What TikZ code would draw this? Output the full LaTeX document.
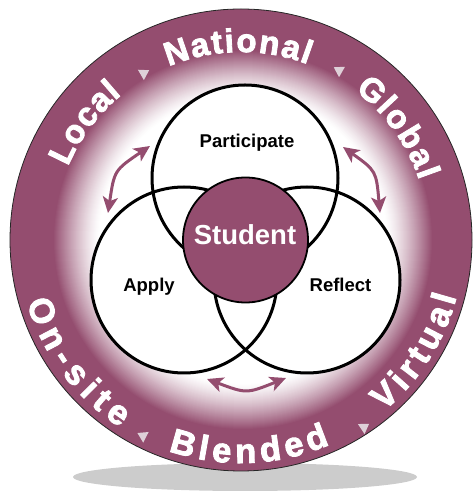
\documentclass[tikz,border=0pt]{standalone}
\usepackage{fontspec}
\setmainfont{Liberation Sans}
\newfontfamily\ringfam{Liberation Sans Bold}[FakeBold=2.5]
\usetikzlibrary{decorations.text,arrows.meta}
\definecolor{purp}{RGB}{148,77,111}
\definecolor{tri}{RGB}{222,208,216}
\definecolor{shadowgray}{RGB}{204,204,204}
\newcommand\ringfonttop{\ringfam\fontsize{33}{33}\selectfont}
\newcommand\ringfontbot{\ringfam\fontsize{34.5}{34.5}\selectfont}
\begin{document}
\begin{tikzpicture}[x=1pt,y=1pt,
  vennfill/.style={circle, fill=white, minimum size=186pt, inner sep=0pt},
  vennring/.style={circle, draw=black, line width=3pt, minimum size=186pt, inner sep=0pt},
  lbl/.style={font=\fontsize{18.5}{18.5}\selectfont\bfseries, anchor=base, inner sep=0pt},
  arr/.style={draw=purp, line width=3pt, {Stealth[length=16pt,width=15pt,inset=4pt]}-{Stealth[length=16pt,width=15pt,inset=4pt]}},
  ringtop/.style={decorate, decoration={text along path, text align=fit to path, text color=white, text={|\ringfonttop|#1}}},
  ringbot/.style={decorate, decoration={text along path, text align=fit to path, text color=white, text={|\ringfontbot|#1}}}
]
\useasboundingbox (0,0) rectangle (474,492);
\coordinate (O) at (241,252);
\coordinate (G) at (243,252);
% shadow
\fill[shadowgray] (245,15) ellipse [x radius=172, y radius=14];
% outer disc
\node[circle, fill=purp, draw=black!85, line width=0.8pt, minimum size=462pt, inner sep=0pt] (outer) at (O) {};
% glow
\foreach \i in {0,...,46}{
  \pgfmathsetmacro\rr{190-\i}
  \pgfmathsetmacro\pp{100*((46-\i)/46)^1.3}
  \fill[purp!\pp!white] (G) circle[radius=\rr];
}
% venn circles
\node[vennfill] (pf) at (245,314) {};
\node[vennfill] (af) at (184,212) {};
\node[vennfill] (rf) at (307,212) {};
\node[vennring] (participate) at (245,314) {};
\node[vennring] (apply) at (184,212) {};
\node[vennring] (reflect) at (307,212) {};
\node[circle, fill=purp, draw=black, line width=1.8pt, minimum size=125pt, inner sep=0pt] (student) at (245.5,252) {};
% labels
\node[lbl] (plbl) at (247,344) {Participate};
\node[lbl] (albl) at (149,200) {Apply};
\node[lbl] (rlbl) at (340.5,200) {Reflect};
\node[lbl, font=\fontsize{27.5}{27.5}\selectfont\bfseries, text=white] (slbl) at (245,247) {Student};
% arrows
\coordinate (la1) at (150,346); \coordinate (la2) at (108,279); \coordinate (lac) at (114.3,321.7);
\coordinate (ra1) at (343,345); \coordinate (ra2) at (380,279); \coordinate (rac) at (376.2,321.2);
\coordinate (ba1) at (207,113); \coordinate (ba2) at (286,114); \coordinate (bac) at (246.5,98.2);
\draw[arr] (la1) .. controls (lac) .. (la2);
\draw[arr] (ra1) .. controls (rac) .. (ra2);
\draw[arr] (ba1) .. controls (bac) .. (ba2);
% ring texts
\path[ringtop=Local] (O) ++(157:188) arc[start angle=157, end angle=129.4, radius=188];
\path[ringtop=National] (O) ++(112.6:188) arc[start angle=112.6, end angle=69.2, radius=188];
\path[ringtop=Global] (O) ++(52.7:188) arc[start angle=52.7, end angle=18.5, radius=188];
\path[ringbot=On-site] (O) ++(196.2:223) arc[start angle=196.2, end angle=237.2, radius=223];
\path[ringbot=Blended] (O) ++(251:223) arc[start angle=251, end angle=293.5, radius=223];
\path[ringbot=Virtual] (O) ++(309.8:223) arc[start angle=309.8, end angle=345.2, radius=223];
% separators
\begin{scope}[shift={(O)}]
\foreach \a/\r/\d in {119.9/193/-1, 60.3/196/1, 243.1/219/-1, 303.6/224/1}{
  \fill[tri, shift={(\a:\r)}, rotate={\a+90*\d}] (5,0) -- (-4.5,6) -- (-4.5,-6) -- cycle;
}
\end{scope}
\end{tikzpicture}
\end{document}
